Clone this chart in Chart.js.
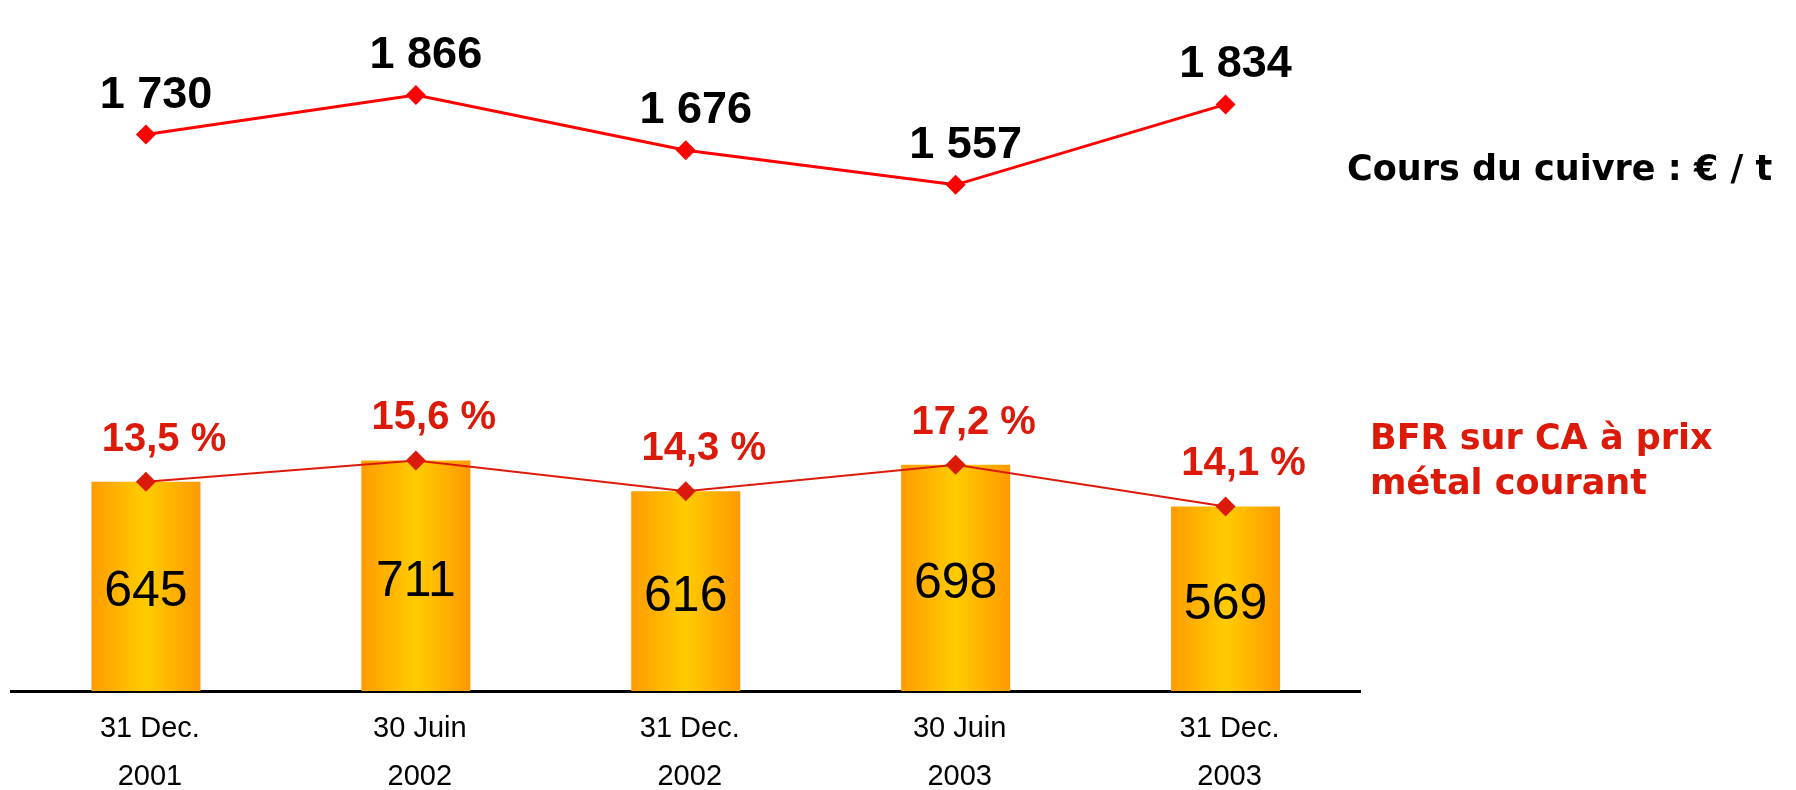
<!DOCTYPE html>
<html>
<head>
<meta charset="utf-8">
<script src="https://cdn.jsdelivr.net/npm/chart.js@4.4.1/dist/chart.umd.min.js"></script>
<style>
  html, body { margin: 0; padding: 0; background: #ffffff; }
  #wrap { width: 1796px; height: 790px; position: relative; }
</style>
</head>
<body>
<div id="wrap"><canvas id="c" width="1796" height="790"></canvas></div>
<script>
// ---- Data ----
const categories = [["31 Dec.", "2001"], ["30 Juin", "2002"], ["31 Dec.", "2002"], ["30 Juin", "2003"], ["31 Dec.", "2003"]];
const bfrValues = [645, 711, 616, 698, 569];          // BFR (bars)
const bfrPct = [13.5, 15.6, 14.3, 17.2, 14.1];        // BFR sur CA (%)
const copperPrice = [1730, 1866, 1676, 1557, 1834];   // Cours du cuivre €/t
const copperTitle = "Cours du cuivre : € / t";
const bfrTitle = ["BFR sur CA à prix", "métal courant"];

const RED = '#dc1a0a';
const BAR_PCT = 0.404;

function fmtThousands(v) { return String(v).replace(/\B(?=(\d{3})+(?!\d))/g, ' '); }
function fmtPct(v) { return v.toFixed(1).replace('.', ',') + ' %'; }

const labelPlugin = {
  id: 'customLabels',
  afterDatasetsDraw(chart) {
    const ctx = chart.ctx;
    ctx.save();
    ctx.textAlign = 'center';
    ctx.textBaseline = 'alphabetic';

    // bar value labels
    const mb = chart.getDatasetMeta(0);
    ctx.font = '50px "Liberation Sans", Arial, sans-serif';
    ctx.fillStyle = '#000000';
    mb.data.forEach((el, i) => {
      const mid = (el.y + el.base) / 2 + 2;
      ctx.fillText(String(bfrValues[i]), el.x, mid + 18);
    });

    // percentage labels
    const mp = chart.getDatasetMeta(1);
    ctx.font = 'bold 40px "Liberation Sans", Arial, sans-serif';
    ctx.fillStyle = RED;
    mp.data.forEach((el, i) => {
      ctx.fillText(fmtPct(bfrPct[i]), el.x + 18, el.y - 31);
    });

    // copper labels
    const mc = chart.getDatasetMeta(2);
    ctx.font = 'bold 45px "Liberation Sans", Arial, sans-serif';
    ctx.fillStyle = '#000000';
    mc.data.forEach((el, i) => {
      ctx.fillText(fmtThousands(copperPrice[i]), el.x + 10, el.y - 27);
    });

    // side titles
    ctx.textAlign = 'left';
    ctx.font = 'bold 35px "DejaVu Sans", sans-serif';
    ctx.fillStyle = '#000000';
    ctx.fillText(copperTitle, 1347, 180);
    ctx.fillStyle = RED;
    ctx.fillText(bfrTitle[0], 1370, 449);
    ctx.fillText(bfrTitle[1], 1370, 494);
    ctx.restore();
  }
};

function barGradient(c) {
  const chart = c.chart;
  const area = chart.chartArea;
  if (!area || !chart.scales.x) return '#ffb300';
  const x = chart.scales.x.getPixelForValue(c.dataIndex);
  const half = (area.right - area.left) / categories.length * BAR_PCT / 2;
  const g = chart.ctx.createLinearGradient(x - half, 0, x + half, 0);
  g.addColorStop(0, '#ff9c00');
  g.addColorStop(0.5, '#ffcc00');
  g.addColorStop(1, '#ff9900');
  return g;
}

new Chart(document.getElementById('c'), {
  data: {
    labels: categories,
    datasets: [
      {
        type: 'bar',
        data: bfrValues,
        yAxisID: 'yb',
        backgroundColor: barGradient,
        borderWidth: 0,
        barPercentage: BAR_PCT,
        categoryPercentage: 1,
        order: 3
      },
      {
        type: 'line',
        data: bfrValues,
        yAxisID: 'yb',
        borderColor: RED,
        borderWidth: 2,
        pointStyle: 'rectRot',
        pointRadius: 10,
        pointBackgroundColor: RED,
        pointBorderWidth: 0,
        tension: 0,
        clip: false,
        order: 1
      },
      {
        type: 'line',
        data: copperPrice,
        yAxisID: 'yc',
        borderColor: '#ff0000',
        borderWidth: 3,
        pointStyle: 'rectRot',
        pointRadius: 10,
        pointBackgroundColor: '#ff0000',
        pointBorderWidth: 0,
        tension: 0,
        clip: false,
        order: 0
      }
    ]
  },
  options: {
    responsive: false,
    animation: false,
    devicePixelRatio: 1,
    layout: { padding: { left: 11, right: 435.5, top: 0, bottom: 0 } },
    plugins: { legend: { display: false }, tooltip: { enabled: false } },
    scales: {
      x: {
        offset: true,
        grid: { display: false, drawTicks: false },
        border: { display: true, color: '#000000', width: 3 },
        ticks: {
          color: '#000000',
          padding: 14,
          labelOffset: 4,
          maxRotation: 0,
          autoSkip: false,
          font: { family: '"Liberation Sans", Arial, sans-serif', size: 29, lineHeight: 1.66 }
        },
        afterFit(scale) { scale.height = 99; }
      },
      yb: { display: false, min: 0, max: 2100 },
      yc: { display: false, min: -186, max: 2159 }
    }
  },
  plugins: [labelPlugin]
});
</script>
</body>
</html>
